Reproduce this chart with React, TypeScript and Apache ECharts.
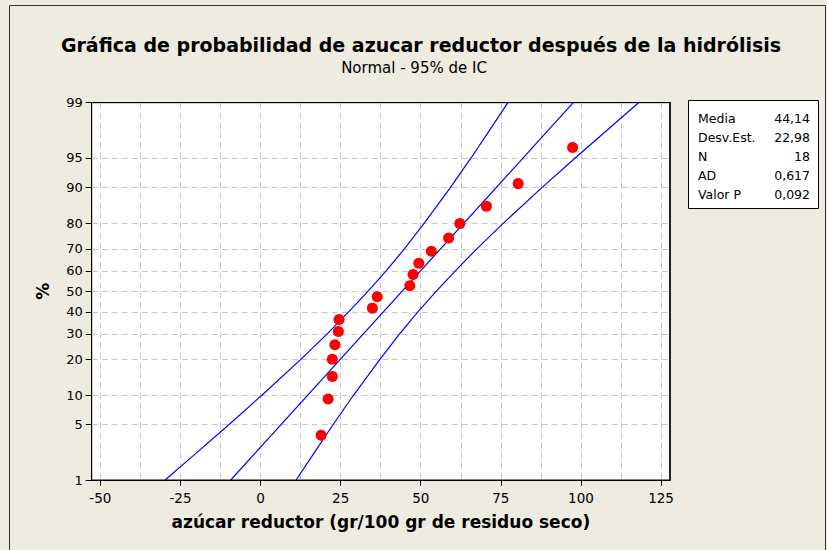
import React, { useEffect, useRef } from "react";
import * as echarts from "echarts";

const titleText = "Gráfica de probabilidad de azucar reductor después de la hidrólisis";
const subtitleText = "Normal - 95% de IC";
const xAxisName = "azúcar reductor (gr/100 gr de residuo seco)";
const yAxisName = "%";

const xTickValues = [-50, -25, 0, 25, 50, 75, 100, 125];
const xGridValues = [-50, -37.5, -25, -12.5, 0, 12.5, 25, 37.5, 50, 62.5, 75, 87.5, 100, 112.5, 125];
const yTickPercents = [1, 5, 10, 20, 30, 40, 50, 60, 70, 80, 90, 95, 99];

// observed points (x value, plotted percent)
const pointX = [18.9, 21.1, 22.4, 22.4, 23.2, 24.3, 24.5, 34.9, 36.4, 46.6, 47.6, 49.4, 53.3, 58.7, 62.2, 70.5, 80.4, 97.4];
const pointPct = [3.8, 9.2, 14.7, 20.1, 25.5, 31.0, 36.4, 41.8, 47.3, 52.7, 58.2, 63.6, 69.0, 74.5, 79.9, 85.3, 90.8, 96.2];

// fitted line
const fitPct = [1, 99];
const fitX = [-9.3, 97.6];

// 95% confidence band
const bandPct = [1, 2, 5, 10, 20, 30, 40, 50, 60, 70, 80, 90, 95, 98, 99];
const bandLowerX = [-29.8, -21.8, -9.9, 0.4, 12.5, 20.8, 27.5, 33.5, 39.2, 44.9, 51.1, 59.3, 65.7, 72.6, 77.2];
const bandUpperX = [11.1, 15.7, 22.6, 29.0, 37.2, 43.4, 49.1, 54.8, 60.8, 67.5, 75.8, 87.9, 98.2, 110.1, 118.0];

const statLabels = ["Media", "Desv.Est.", "N", "AD", "Valor P"];
const statValues = ["44,14", "22,98", "18", "0,617", "0,092"];

const FONT = "Tahoma, 'DejaVu Sans', sans-serif";

// inverse normal CDF (probability-axis transform)
function probit(p: number): number {
  const a = [-3.969683028665376e1, 2.209460984245205e2, -2.759285104469687e2, 1.38357751867269e2, -3.066479806614716e1, 2.506628277459239];
  const b = [-5.447609879822406e1, 1.615858368580409e2, -1.556989798598866e2, 6.680131188771972e1, -1.328068155288572e1];
  const c = [-7.784894002430293e-3, -3.223964580411365e-1, -2.400758277161838, -2.549732539343734, 4.374664141464968, 2.938163982698783];
  const d = [7.784695709041462e-3, 3.224671290700398e-1, 2.445134137142996, 3.754408661907416];
  const pl = 0.02425;
  if (p < pl) {
    const q = Math.sqrt(-2 * Math.log(p));
    return (((((c[0] * q + c[1]) * q + c[2]) * q + c[3]) * q + c[4]) * q + c[5]) / ((((d[0] * q + d[1]) * q + d[2]) * q + d[3]) * q + 1);
  }
  if (p <= 1 - pl) {
    const q = p - 0.5;
    const r = q * q;
    return ((((((a[0] * r + a[1]) * r + a[2]) * r + a[3]) * r + a[4]) * r + a[5]) * q) / (((((b[0] * r + b[1]) * r + b[2]) * r + b[3]) * r + b[4]) * r + 1);
  }
  const q = Math.sqrt(-2 * Math.log(1 - p));
  return -(((((c[0] * q + c[1]) * q + c[2]) * q + c[3]) * q + c[4]) * q + c[5]) / ((((d[0] * q + d[1]) * q + d[2]) * q + d[3]) * q + 1);
}

const z = (pct: number) => probit(pct / 100);

export default function App() {
  const ref = useRef<HTMLDivElement>(null);

  useEffect(() => {
    if (!ref.current) return;
    const chart = echarts.init(ref.current, null, { renderer: "svg" });
    const yTickZ = yTickPercents.map(z);
    const zMin = z(yTickPercents[0]);
    const zMax = z(yTickPercents[yTickPercents.length - 1]);
    const pctLabel = (v: number) => {
      let best = 0;
      yTickZ.forEach((t, i) => {
        if (Math.abs(t - v) < Math.abs(yTickZ[best] - v)) best = i;
      });
      return String(yTickPercents[best]);
    };

    const lineStyle = { color: "#0000ff", width: 1.2 };
    const gridLine = { show: true, lineStyle: { color: "#c6c6c6", width: 1, type: [6, 4] } };
    const rowY0 = 118;
    const rowStep = 19;

    chart.setOption({
      animation: false,
      backgroundColor: "#eeebe1",
      textStyle: { fontFamily: FONT },
      title: [
        {
          text: titleText,
          left: 421,
          top: 35,
          padding: 0,
          textAlign: "center",
          textStyle: { fontSize: 19, fontWeight: "bold", color: "#000", fontFamily: FONT },
        },
        {
          text: subtitleText,
          left: 414,
          top: 60,
          padding: 0,
          textAlign: "center",
          textStyle: { fontSize: 15, fontWeight: "normal", color: "#000", fontFamily: FONT },
        },
      ],
      grid: {
        left: 91.7,
        top: 102.7,
        right: 157,
        bottom: 70,
        show: true,
        backgroundColor: "#ffffff",
        borderColor: "#000",
        borderWidth: 1,
        containLabel: false,
      },
      xAxis: [
        {
          type: "value",
          min: -52.7,
          max: 127.8,
          position: "top",
          axisLine: { show: true, onZero: false, lineStyle: { color: "#000", width: 1 } },
          axisTick: { show: false, customValues: xGridValues },
          axisLabel: { show: false },
          splitLine: gridLine,
        },
        {
          type: "value",
          min: -52.7,
          max: 127.8,
          position: "bottom",
          axisLine: { show: true, onZero: false, lineStyle: { color: "#000", width: 1 } },
          axisTick: { show: true, length: 6, customValues: xTickValues, lineStyle: { color: "#000" } },
          axisLabel: { customValues: xTickValues, margin: 11, fontSize: 13.5, color: "#000", fontFamily: FONT },
          splitLine: { show: false },
          name: xAxisName,
          nameLocation: "middle",
          nameGap: 33,
          nameTextStyle: { fontSize: 17, fontWeight: "bold", color: "#000", fontFamily: FONT },
        },
      ],
      yAxis: [
        {
          type: "value",
          min: zMin,
          max: zMax,
          position: "left",
          axisLine: { show: true, onZero: false, lineStyle: { color: "#000", width: 1 } },
          axisTick: { show: true, length: 6, customValues: yTickZ, lineStyle: { color: "#000" } },
          axisLabel: { customValues: yTickZ, formatter: (v: number) => pctLabel(v), margin: 9, fontSize: 13, color: "#000", fontFamily: FONT },
          splitLine: gridLine,
          name: yAxisName,
          nameLocation: "middle",
          nameGap: 40,
          nameRotate: 90,
          nameTextStyle: { fontSize: 17, fontWeight: "bold", color: "#000", fontFamily: FONT },
        },
        {
          type: "value",
          min: zMin,
          max: zMax,
          position: "right",
          axisLine: { show: true, onZero: false, lineStyle: { color: "#222", width: 2 } },
          axisTick: { show: false },
          axisLabel: { show: false },
          splitLine: { show: false },
        },
      ],
      series: [
        {
          type: "line",
          xAxisIndex: 0,
          yAxisIndex: 0,
          data: bandLowerX.map((x, i) => [x, z(bandPct[i])]),
          symbol: "none",
          lineStyle,
          silent: true,
        },
        {
          type: "line",
          xAxisIndex: 0,
          yAxisIndex: 0,
          data: fitX.map((x, i) => [x, z(fitPct[i])]),
          symbol: "none",
          lineStyle,
          silent: true,
        },
        {
          type: "line",
          xAxisIndex: 0,
          yAxisIndex: 0,
          data: bandUpperX.map((x, i) => [x, z(bandPct[i])]),
          symbol: "none",
          lineStyle,
          silent: true,
        },
        {
          type: "scatter",
          xAxisIndex: 0,
          yAxisIndex: 0,
          data: pointX.map((x, i) => [x, z(pointPct[i])]),
          symbol: "circle",
          symbolSize: 11,
          itemStyle: { color: "#ff0000", opacity: 1 },
          z: 5,
        },
      ],
      graphic: [
        {
          type: "rect",
          shape: { x: 9.5, y: 5.5, width: 816, height: 600 },
          style: { fill: "none", stroke: "#333", lineWidth: 1 },
          silent: true,
        },
        {
          type: "rect",
          shape: { x: 688.5, y: 100.5, width: 130, height: 108 },
          style: { fill: "#fff", stroke: "#000", lineWidth: 1 },
          silent: true,
        },
        ...statLabels.map((s, i) => ({
          type: "text",
          x: 698,
          y: rowY0 + i * rowStep,
          style: { text: s, fill: "#000", font: `12.5px ${FONT}`, textVerticalAlign: "middle", textAlign: "left" },
          silent: true,
        })),
        ...statValues.map((s, i) => ({
          type: "text",
          x: 810,
          y: rowY0 + i * rowStep,
          style: { text: s, fill: "#000", font: `12.5px ${FONT}`, textVerticalAlign: "middle", textAlign: "right" },
          silent: true,
        })),
      ],
    });
    return () => chart.dispose();
  }, []);

  return <div ref={ref} style={{ position: "absolute", left: 0, top: 0, width: 827, height: 550 }} />;
}
